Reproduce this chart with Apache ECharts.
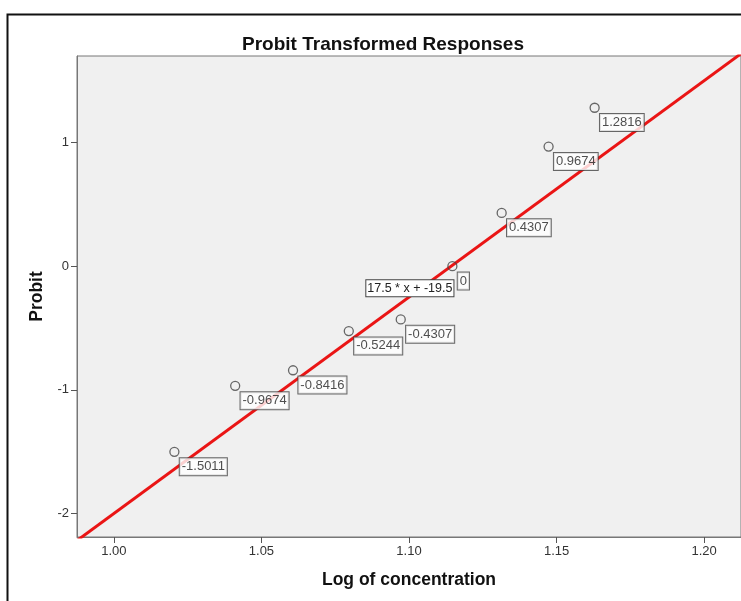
<!DOCTYPE html>
<html>
<head>
<meta charset="utf-8">
<script src="https://cdn.jsdelivr.net/npm/echarts@6/dist/echarts.min.js"></script>
<style>html,body{margin:0;padding:0;background:#fff;}#c{width:741px;height:601px;}</style>
</head>
<body>
<div id="c"></div>
<script>
var logConc = [1.0205, 1.0411, 1.0607, 1.0796, 1.0972, 1.1147, 1.1314, 1.1473, 1.1629];
var probit = [-1.5011, -0.9674, -0.8416, -0.5244, -0.4307, 0, 0.4307, 0.9674, 1.2816];
var probitLabels = ['-1.5011', '-0.9674', '-0.8416', '-0.5244', '-0.4307', '0', '0.4307', '0.9674', '1.2816'];
var fitX = [0.98, 1.22];
var fitY = [-2.35, 1.85];
var fitText = '17.5 * x + -19.5';
var fitTextAt = [1.1003, -0.178];
var xTicks = [1.00, 1.05, 1.10, 1.15, 1.20];
var yTicks = [-2, -1, 0, 1];

var chart = echarts.init(document.getElementById('c'));
var font = 'Arial, "Liberation Sans", sans-serif';
chart.setOption({
  animation: false,
  backgroundColor: '#fff',
  title: {
    text: 'Probit Transformed Responses',
    left: 378, top: 30, textAlign: 'center',
    textStyle: {fontFamily: font, fontSize: 19, fontWeight: 'bold', color: '#111'}
  },
  grid: {left: 77, top: 56, right: -2, bottom: 64, show: true, backgroundColor: '#f0f0f0', borderColor: '#777', borderWidth: 1},
  xAxis: {
    type: 'value', min: 0.9875, max: 1.2125,
    name: 'Log of concentration', nameLocation: 'middle', nameGap: 34,
    nameTextStyle: {fontFamily: font, fontSize: 17.5, fontWeight: 'bold', color: '#111'},
    axisLine: {show: true, onZero: false, lineStyle: {color: '#777'}},
    axisTick: {show: true, length: 6, lineStyle: {color: '#555'}, customValues: xTicks},
    axisLabel: {fontFamily: font, fontSize: 13, color: '#333', margin: 8, customValues: xTicks,
      formatter: function(v){ return v.toFixed(2); }},
    splitLine: {show: false}
  },
  yAxis: {
    type: 'value', min: -2.19, max: 1.70,
    name: 'Probit', nameLocation: 'middle', nameGap: 30, nameRotate: 90,
    nameTextStyle: {fontFamily: font, fontSize: 17.5, fontWeight: 'bold', color: '#111'},
    axisLine: {show: true, onZero: false, lineStyle: {color: '#777'}},
    axisTick: {show: true, length: 6, lineStyle: {color: '#555'}, customValues: yTicks},
    axisLabel: {fontFamily: font, fontSize: 13, color: '#333', margin: 8, customValues: yTicks,
      formatter: function(v){ return String(Math.round(v)); }},
    splitLine: {show: false}
  },
  graphic: [{
    type: 'rect', silent: true, z: 100,
    shape: {x: 7.5, y: 14.5, width: 900, height: 800},
    style: {fill: 'none', stroke: '#111', lineWidth: 2}
  }],
  series: [
    {
      type: 'line', z: 3, symbol: 'none',
      data: fitX.map(function(x, i){ return [x, fitY[i]]; }),
      lineStyle: {color: '#ea1515', width: 3},
      markPoint: {
        symbol: 'rect', symbolSize: 1, itemStyle: {color: 'rgba(0,0,0,0)'},
        data: [{coord: fitTextAt, value: fitText}],
        label: {show: true, position: 'inside', formatter: fitText, fontFamily: font, fontSize: 12.5, color: '#222',
          backgroundColor: '#fff', borderColor: '#444', borderWidth: 1, padding: [2, 1, 1, 1]}
      }
    },
    {
      type: 'scatter', z: 4, symbol: 'circle', symbolSize: 9,
      data: logConc.map(function(x, i){ return [x, probit[i]]; }),
      itemStyle: {color: 'rgba(240,240,240,0)', borderColor: '#444', borderWidth: 1.3},
      label: {show: true, position: [10.5, 11.5], fontFamily: font, fontSize: 13, color: '#222',
        backgroundColor: '#fff', borderColor: '#444', borderWidth: 1, padding: [2, 2, 2, 2],
        formatter: function(p){ return probitLabels[p.dataIndex]; }},
      labelLayout: {hideOverlap: false}
    }
  ]
});
</script>
</body>
</html>
